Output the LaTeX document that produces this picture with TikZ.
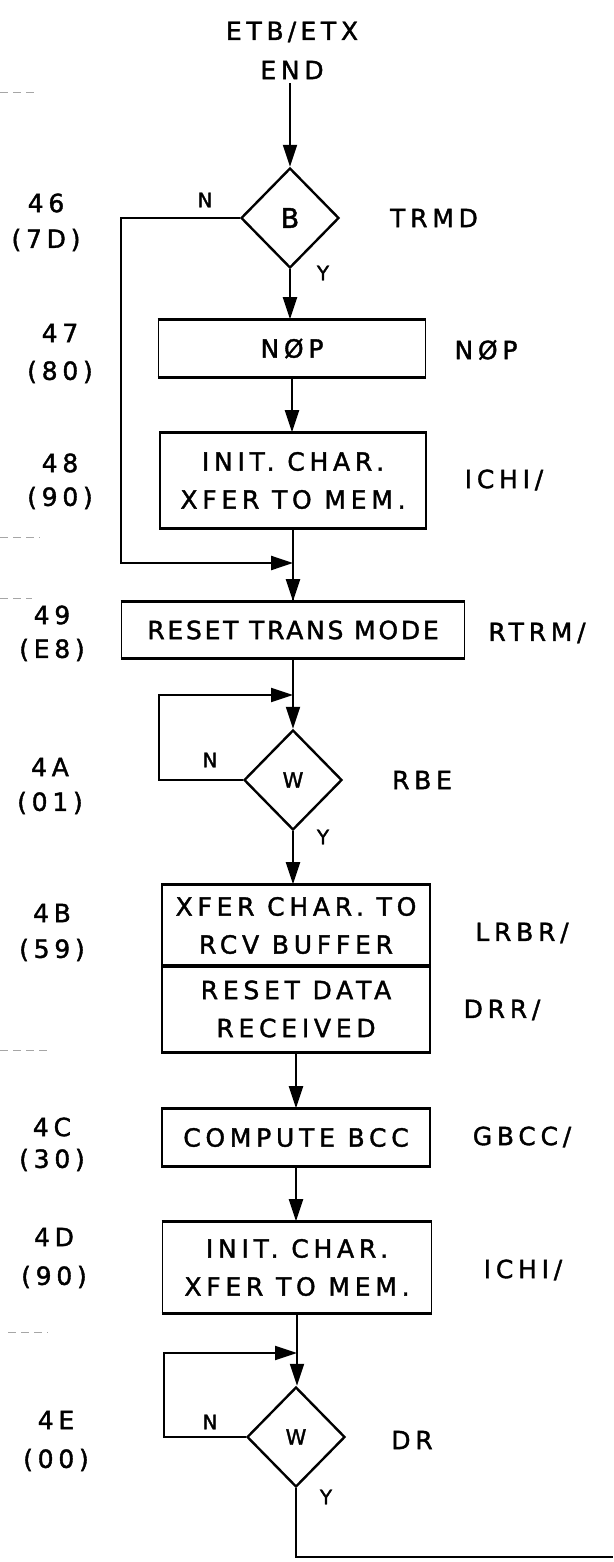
\documentclass[tikz,border=0pt]{standalone}
\usepackage{fontspec}
\setmainfont{DejaVu Sans}
\newfontfamily\lett{DejaVu Sans}[LetterSpace=19,FakeBold=1.5]
\newfontfamily\lettn{DejaVu Sans}[LetterSpace=11,FakeBold=1.5]
\usetikzlibrary{arrows.meta,shapes.geometric}
\tikzset{
  txt/.style={font=\lett\fontsize{25}{38}\selectfont, inner sep=0pt, align=center},
  yn/.style={font=\lett\fontsize{20}{22}\selectfont, inner sep=0pt},
  proc/.style={draw, line width=1.6pt, inner sep=0pt, align=center,
    font=\lett\fontsize{25}{38}\selectfont},
  heavy/.style={line width=3pt},
  dec/.style={draw, diamond, line width=2.4pt, inner sep=0pt,
    minimum width=98pt, minimum height=100pt},
  conn/.style={line width=2pt},
  arr/.style={conn, -{Triangle[length=22pt,width=14pt]}},
  marginmark/.style={draw=black!35, line width=0.8pt, dash pattern=on 8pt off 5pt}
}
\begin{document}
\begin{tikzpicture}[x=1pt, y=-1pt]
\useasboundingbox (0,0) rectangle (613,1562);
\fill[white] (0,0) rectangle (613,1562);

% start text
\node[txt] (etb) at (292,32) {ETB\,/\,ETX};
\node[txt] (endt) at (292,70) {END};

% decision B
\node[dec, font=\lettn\fontsize{27}{28}\selectfont] (B) at (290,218) {B};
\node[txt] (trmd) at (434,218) {TRMD};
\node[yn] (nB) at (205,200) {N};
\node[yn] (yB) at (323,273) {Y};

% NOP
\node[proc, minimum width=267pt, minimum height=57pt] (nop) at (292,348.5) {NØP};
\node[txt] (nopr) at (486,350) {NØP};

% init 1
\node[proc, minimum width=266pt, minimum height=95pt] (ini1) at (293,480.5) {INIT. CHAR.\\XFER TO MEM.};
\node[txt] (ichi1) at (504,480) {ICHI/};

% reset trans mode
\coordinate (m1) at (293,563);
\node[proc, minimum width=343pt, minimum height=56pt, font=\lettn\fontsize{25}{38}\selectfont] (rst) at (293,630) {RESET TRANS MODE};
\node[txt] (rtrm) at (537,633) {RTRM/};

% decision W
\coordinate (m2) at (293,695);
\node[dec, font=\lettn\fontsize{21}{22}\selectfont] (W) at (293,780) {W};
\node[txt] (rbe) at (422,780) {RBE};
\node[yn] (nW) at (210,760) {N};
\node[yn] (yW) at (323,837) {Y};

% double box
\node[proc, minimum width=268pt, minimum height=81pt] (lrbrA) at (296,925.5) {XFER CHAR. TO\\RCV BUFFER};
\node[proc, minimum width=268pt, minimum height=86pt] (lrbrB) at (296,1009) {RESET DATA\\RECEIVED};
\node[txt] (lrbr) at (522,933) {LRBR/};
\node[txt] (drr) at (502,1010) {DRR/};

% compute bcc
\node[proc, minimum width=268pt, minimum height=57pt] (bcc) at (296,1137.5) {COMPUTE BCC};
\node[txt] (gbcc) at (522,1137) {GBCC/};

% init 2
\node[proc, minimum width=269pt, minimum height=91pt] (ini2) at (297,1267.5) {INIT. CHAR.\\XFER TO MEM.};
\node[txt] (ichi2) at (523,1270) {ICHI/};

% decision W2
\coordinate (m3) at (297,1353);
\node[dec, font=\lettn\fontsize{21}{22}\selectfont] (W2) at (296,1437) {W};
\node[txt] (dr) at (412,1440) {DR};
\node[yn] (nW2) at (210,1422) {N};
\node[yn] (yW2) at (326,1497) {Y};
\coordinate (exit) at (613,1557);

% heavy top/bottom edges of boxes
\foreach \n in {nop,ini1,rst,lrbrA,lrbrB,bcc,ini2}{
  \draw[heavy] (\n.north west) -- (\n.north east) (\n.south west) -- (\n.south east);
}

% left step labels
\node[txt] (s46) at (46,203) {46};
\node[txt] (s46b) at (46,240) {(7D)};
\node[txt] (s47) at (60,333) {47};
\node[txt] (s47b) at (60,372) {(80)};
\node[txt] (s48) at (60,463) {48};
\node[txt] (s48b) at (60,498) {(90)};
\node[txt] (s49) at (52,615) {49};
\node[txt] (s49b) at (52,650) {(E8)};
\node[txt] (s4A) at (50,767) {4A};
\node[txt] (s4Ab) at (50,803) {(01)};
\node[txt] (s4B) at (52,913) {4B};
\node[txt] (s4Bb) at (52,950) {(59)};
\node[txt] (s4C) at (52,1127) {4C};
\node[txt] (s4Cb) at (52,1160) {(30)};
\node[txt] (s4D) at (54,1237) {4D};
\node[txt] (s4Db) at (54,1277) {(90)};
\node[txt] (s4E) at (56,1420) {4E};
\node[txt] (s4Eb) at (56,1460) {(00)};

% connectors
\draw[arr] ([yshift=-4pt]endt.south -| B.north) -- (B.north);
\draw[arr] (B.south) -- (B.south |- nop.north);
\draw[arr] (nop.south) -- (nop.south |- ini1.north);
\draw[conn] (ini1.south) -- (ini1.south |- rst.north);
\draw[arr] (m1) -- (m1 |- rst.north);
\draw[arr, line width=2.4pt] (B.west) -- ++(-119,0) |- (m1);
\draw[arr] (rst.south) -- (rst.south |- W.north);
\draw[arr, line width=2.2pt] (W.west) -- ++(-84,0) |- (m2);
\draw[arr] (W.south) -- (W.south |- lrbrA.north);
\draw[arr] (lrbrB.south) -- (bcc.north);
\draw[arr] (bcc.south) -- (bcc.south |- ini2.north);
\draw[arr] (ini2.south) -- (ini2.south |- W2.north);
\draw[arr, line width=2.2pt] (W2.west) -- ++(-82,0) |- (m3);
\draw[conn, line width=2.2pt] (W2.south) |- (exit);

% faint margin marks
\draw[marginmark] (0,92) -- (38,92);
\draw[marginmark] (0,537) -- (40,537);
\draw[marginmark] (0,598) -- (32,598);
\draw[marginmark] (0,1050) -- (48,1050);
\draw[marginmark] (8,1332) -- (48,1332);
\end{tikzpicture}
\end{document}
